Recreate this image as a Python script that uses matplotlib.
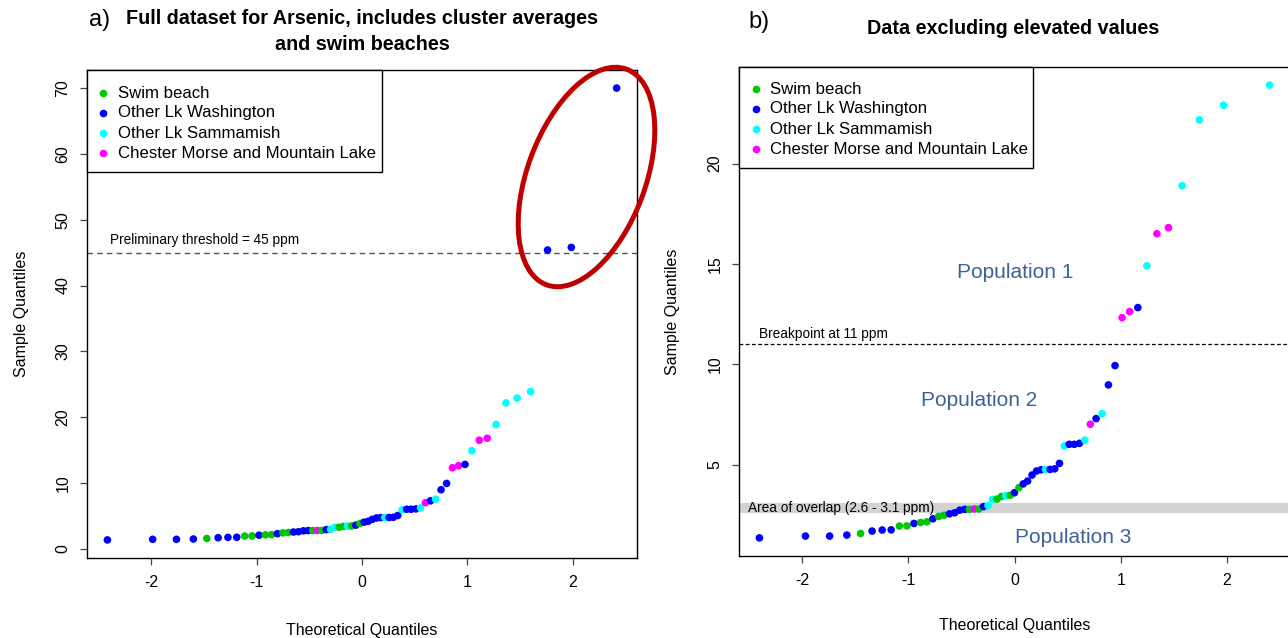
import matplotlib
matplotlib.use('Agg')
import matplotlib.pyplot as plt
from matplotlib.patches import Ellipse, Rectangle
from matplotlib.transforms import IdentityTransform
from statistics import NormalDist
import numpy as np

plt.rcParams['font.family'] = ['Liberation Sans', 'DejaVu Sans']

# ---------------- data ----------------
# sorted sample values (ppm) for the data set excluding elevated values
base_values = [1.36, 1.45, 1.45, 1.50, 1.58, 1.70, 1.75, 1.76, 1.95, 1.96,
               2.08, 2.13, 2.16, 2.31, 2.43, 2.49, 2.56, 2.61, 2.74, 2.78,
               2.78, 2.80, 2.80, 2.92, 2.97, 3.28, 3.29, 3.42, 3.47, 3.48,
               3.61, 3.86, 4.05, 4.19, 4.49, 4.69, 4.75, 4.77, 4.77, 4.80,
               5.07, 5.94, 6.02, 6.02, 6.07, 6.23, 7.02, 7.30, 7.55, 8.98,
               9.94, 12.33, 12.63, 12.83, 14.91, 16.51, 16.81, 18.90, 22.18, 22.91,
               23.91]
# S = swim beach, W = other Lk Washington, M = other Lk Sammamish, C = Chester Morse / Mountain Lake
base_groups = ['W', 'W', 'W', 'W', 'S', 'W', 'W', 'W', 'S', 'S',
               'W', 'S', 'S', 'W', 'S', 'S', 'W', 'W', 'W', 'W',
               'S', 'C', 'S', 'W', 'M', 'M', 'S', 'S', 'M', 'S',
               'W', 'S', 'W', 'W', 'W', 'W', 'W', 'M', 'W', 'W',
               'W', 'M', 'W', 'W', 'W', 'M', 'C', 'W', 'M', 'W',
               'W', 'C', 'C', 'W', 'M', 'C', 'C', 'M', 'M', 'M',
               'M']
elevated_values = [45.4, 45.8, 70.0]
elevated_groups = ['W', 'W', 'W']

group_codes = ['S', 'W', 'M', 'C']
group_labels = ['Swim beach', 'Other Lk Washington', 'Other Lk Sammamish',
                'Chester Morse and Mountain Lake']
group_colors = ['#00C800', '#0000FF', '#00FFFF', '#FF00FF']

threshold = 45
breakpoint = 11
overlap = (2.6, 3.1)

# ---------------- helpers ----------------
W, H = 1288, 638
color_of = dict(zip(group_codes, group_colors))


def theo_quantiles(n):
    a = 3 / 8 if n <= 10 else 0.5
    nd = NormalDist()
    return np.array([nd.inv_cdf((i + 1 - a) / (n + 1 - 2 * a)) for i in range(n)])


def rlim(v):
    lo, hi = min(v), max(v)
    d = 0.04 * (hi - lo)
    return lo - d, hi + d


fig = plt.figure(figsize=(W / 100, H / 100), dpi=100)


def px_axes(l, t, r, b):
    ax = fig.add_axes([l / W, 1 - b / H, (r - l) / W, (b - t) / H])
    ax._px_size = (r - l, b - t)
    return ax


def style(ax):
    for s in ax.spines.values():
        s.set_linewidth(1.0)
        s.set_color('black')
    ax.tick_params(direction='out', length=5, width=0.9, color='#444444',
                   labelsize=11.5, pad=7)
    ax.tick_params(axis='y', labelrotation=90)
    for lab in ax.get_yticklabels():
        lab.set_va('center')


def draw_legend(ax, box_w, box_h, first_row, row_step, marker_x, text_x):
    aw, ah = ax._px_size
    ax.add_patch(Rectangle((0, 1 - box_h / ah), box_w / aw, box_h / ah,
                           transform=ax.transAxes, facecolor='white',
                           edgecolor='black', lw=1.0, zorder=5, clip_on=False))
    for i, (lab, col) in enumerate(zip(group_labels, group_colors)):
        yy = 1 - (first_row + i * row_step) / ah
        ax.plot([marker_x / aw], [yy], marker='o', ls='', color=col,
                markersize=5.5, markeredgewidth=0, transform=ax.transAxes,
                zorder=6, clip_on=False)
        ax.text(text_x / aw, yy, lab, transform=ax.transAxes, fontsize=12.1,
                va='center', ha='left', zorder=6)


def qq(ax, values, groups, yticks, xlabelpad, ylabelpad):
    x = theo_quantiles(len(values))
    cols = [color_of[g] for g in groups]
    ax.scatter(x, values, s=30, c=cols, linewidths=0, zorder=3)
    ax.set_xlim(rlim(x))
    ax.set_ylim(rlim(values))
    ax.set_xticks([-2, -1, 0, 1, 2])
    ax.set_xticklabels(['-2', '-1', '0', '1', '2'])
    ax.set_yticks(yticks)
    ax.set_yticklabels([str(t) for t in yticks])
    style(ax)
    ax.set_xlabel('Theoretical Quantiles', fontsize=11.5, labelpad=xlabelpad)
    ax.set_ylabel('Sample Quantiles', fontsize=11.5, labelpad=ylabelpad)
    return x


# ---------------- panel a ----------------
ax1 = px_axes(87, 70, 637, 558)
full_values = base_values + elevated_values
full_groups = base_groups + elevated_groups
qq(ax1, full_values, full_groups, [0, 10, 20, 30, 40, 50, 60, 70],
   xlabelpad=24, ylabelpad=19)
draw_legend(ax1, 295, 102, 23, 20, 16, 31)
ax1.axhline(threshold, ls=(0, (4, 3)), color='#555555', lw=1.0, zorder=2)
ax1.text(-2.39, threshold + 0.8, 'Preliminary threshold = 45 ppm',
         fontsize=9.8, va='bottom', ha='left')

ell = Ellipse((586.5, H - 177), 230, 118, angle=69.6, fill=False,
              edgecolor='#C00000', lw=3.6, transform=IdentityTransform(),
              zorder=10)
fig.add_artist(ell)

fig.text(89 / W, 1 - 20 / H, 'a)', fontsize=17, va='center', ha='left')
fig.text(362 / W, 1 - 19 / H, 'Full dataset for Arsenic, includes cluster averages',
         fontsize=14.2, fontweight='bold', va='center', ha='center')
fig.text(362 / W, 1 - 44 / H, 'and swim beaches',
         fontsize=14.2, fontweight='bold', va='center', ha='center')

# ---------------- panel b ----------------
ax2 = px_axes(739, 67, 1290, 556)
qq(ax2, base_values, base_groups, [5, 10, 15, 20],
   xlabelpad=22, ylabelpad=20)
draw_legend(ax2, 294, 101, 22, 20, 17, 31)
ax2.axhspan(overlap[0], overlap[1], color='#D2D2D2', lw=0, zorder=1)
ax2.text(-2.51, sum(overlap) / 2, 'Area of overlap (2.6 - 3.1 ppm)',
         fontsize=9.8, va='center', ha='left', zorder=4)
ax2.axhline(breakpoint, ls=(0, (3, 2)), color='black', lw=0.9, zorder=2)
ax2.text(-2.40, breakpoint + 0.15, 'Breakpoint at 11 ppm',
         fontsize=9.8, va='bottom', ha='left')

pop_color = '#3C6394'
ax2.text(0.01, 14.56, 'Population 1', fontsize=15, color=pop_color,
         ha='center', va='center')
ax2.text(-0.33, 8.18, 'Population 2', fontsize=15, color=pop_color,
         ha='center', va='center')
ax2.text(0.55, 1.40, 'Population 3', fontsize=15, color=pop_color,
         ha='center', va='center')

fig.text(748 / W, 1 - 22 / H, 'b)', fontsize=17, va='center', ha='left')
fig.text(1013 / W, 1 - 28 / H, 'Data excluding elevated values',
         fontsize=14.2, fontweight='bold', va='center', ha='center')

fig.savefig('out.png', dpi=100)
